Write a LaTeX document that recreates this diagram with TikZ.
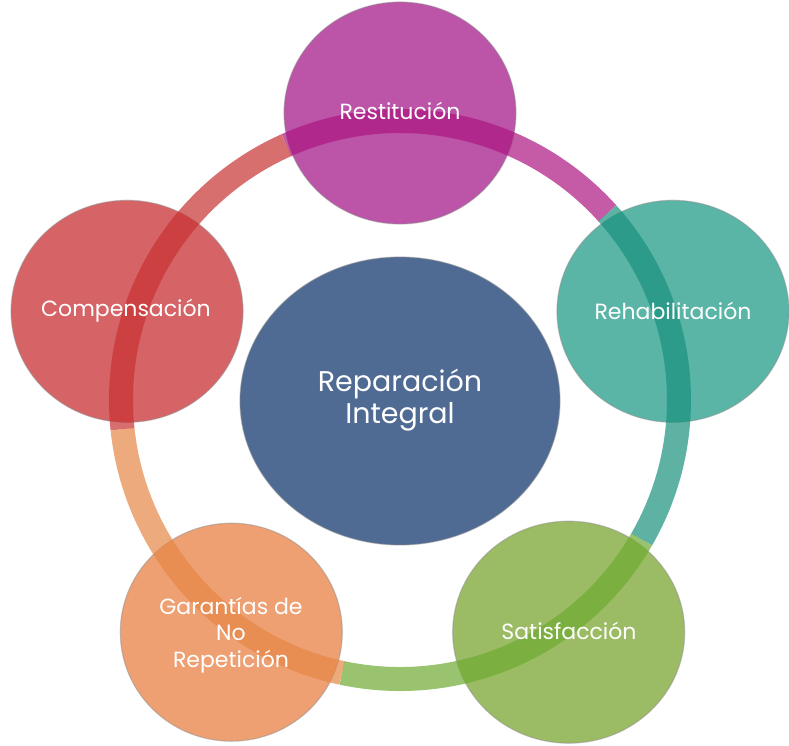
\documentclass[tikz,border=0pt]{standalone}
\usepackage{fontspec}
\setmainfont{Poppins}
\usepackage{tikz}
\usetikzlibrary{shapes.geometric,positioning}
\definecolor{cRest}{RGB}{188,84,168}
\definecolor{cReha}{RGB}{90,181,166}
\definecolor{cSati}{RGB}{155,188,100}
\definecolor{cGara}{RGB}{238,160,114}
\definecolor{cComp}{RGB}{214,100,102}
\definecolor{cCent}{RGB}{79,107,147}
\definecolor{rRest}{RGB}{172,22,128}
\definecolor{rReha}{RGB}{25,145,125}
\definecolor{rSati}{RGB}{110,170,50}
\definecolor{rGara}{RGB}{230,135,70}
\definecolor{rComp}{RGB}{200,50,50}
\tikzset{
  bubble/.style={ellipse, minimum width=232pt, minimum height=222pt, inner sep=0pt,
    draw=black!45, draw opacity=0.45, line width=1.2pt},
  ringarc/.style={line width=24pt, draw opacity=0.7},
  bubbletext/.style={text=white, font=\fontsize{22}{26.5}\selectfont, align=center}
}
\begin{document}
\begin{tikzpicture}[x=1pt,y=1pt]
   \useasboundingbox (-400,-346) rectangle (389,400);
   \path
    (90:287) coordinate (p1)
    (18:287) coordinate (p2)
    (-54:287) coordinate (p3)
    (-126:287) coordinate (p4)
    (162:287) coordinate (p5)
    ;

    % circulos exteriores
    \node[bubble, fill=cRest] (rest) at (p1) {};
    \node[bubble, fill=cReha] (reha) at (p2) {};
    \node[bubble, fill=cSati] (sati) at (p3) {};
    \node[bubble, fill=cGara, minimum width=222pt, minimum height=218pt] (gara) at (p4) {};
    \node[bubble, fill=cComp] (comp) at (p5) {};

    % anillo
    \draw[ringarc, rRest] (114:279pt) arc[start angle=114, end angle=42, radius=279pt];
    \draw[ringarc, rReha] (42:279pt) arc[start angle=42, end angle=-30, radius=279pt];
    \draw[ringarc, rSati] (-30:279pt) arc[start angle=-30, end angle=-102, radius=279pt];
    \draw[ringarc, rGara] (-102:279pt) arc[start angle=-102, end angle=-174, radius=279pt];
    \draw[ringarc, rComp] (186:279pt) arc[start angle=186, end angle=114, radius=279pt];

    % centro
    \node[ellipse, minimum width=320pt, minimum height=288pt, fill=cCent,
      draw=black!45, draw opacity=0.45, line width=1.2pt] (cent) at (0,-1) {};

    % textos
    \node[bubbletext] (trest) at (0,289) {Restitución};
    \node[bubbletext] (treha) at (273,89) {Rehabilitación};
    \node[bubbletext] (tsati) at (169,-231) {Satisfacción};
    \node[bubbletext] (tgara) at (-169,-235) {Garantías de\\No\\Repetición};
    \node[bubbletext] (tcomp) at (-274,89) {Compensación};
    \node[bubbletext, font=\fontsize{28.5}{32}\selectfont] (tcent) at (0,0) {Reparación\\Integral};
\end{tikzpicture}
\end{document}
